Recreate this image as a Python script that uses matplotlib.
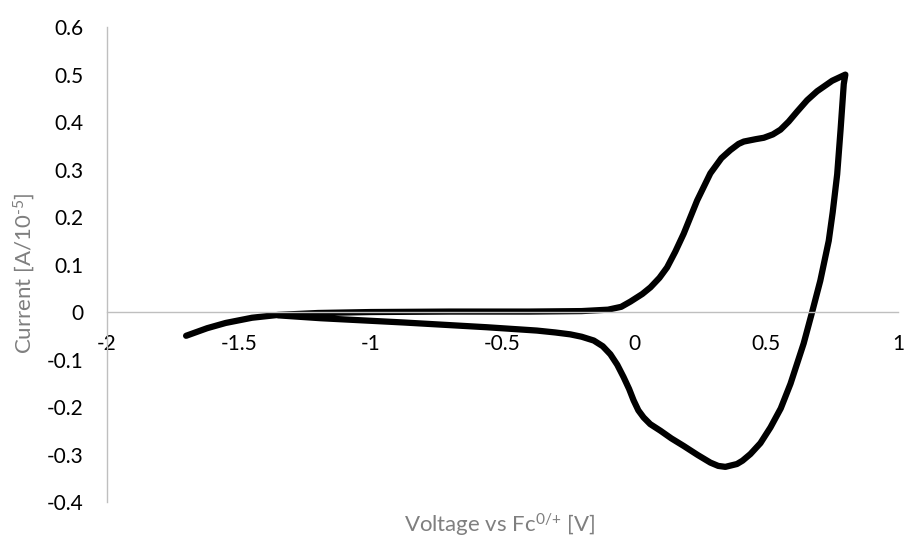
import matplotlib.pyplot as plt
from matplotlib.ticker import FuncFormatter, MultipleLocator

plt.rcParams['font.family'] = ['Lato', 'DejaVu Sans']
plt.rcParams['axes.unicode_minus'] = False
plt.rcParams['mathtext.fontset'] = 'custom'
plt.rcParams['mathtext.rm'] = 'Lato'
plt.rcParams['mathtext.it'] = 'Lato:italic'
plt.rcParams['mathtext.bf'] = 'Lato:bold'

# forward scan (-1.7 V -> 0.8 V)
volt_fwd = [-1.70, -1.62, -1.55, -1.45, -1.35, -1.20, -1.00, -0.70, -0.40, -0.20,
            -0.10, -0.05, -0.015, 0.03, 0.061, 0.095, 0.124, 0.155, 0.187, 0.238,
            0.288, 0.33, 0.364, 0.395, 0.415, 0.46, 0.491, 0.525, 0.554, 0.585,
            0.617, 0.655, 0.693, 0.75, 0.80]
curr_fwd = [-0.050, -0.034, -0.023, -0.012, -0.006, -0.002, 0.000, 0.001, 0.001, 0.002,
            0.005, 0.011, 0.022, 0.038, 0.052, 0.072, 0.094, 0.127, 0.165, 0.235,
            0.292, 0.324, 0.341, 0.354, 0.359, 0.364, 0.367, 0.374, 0.384, 0.401,
            0.422, 0.446, 0.465, 0.487, 0.500]

# reverse scan (0.8 V -> -1.35 V)
volt_rev = [0.80, 0.794, 0.782, 0.769, 0.752, 0.737, 0.705, 0.674, 0.642, 0.592,
            0.555, 0.516, 0.478, 0.44, 0.41, 0.389, 0.345, 0.318, 0.288, 0.24,
            0.187, 0.14, 0.099, 0.06, 0.035, 0.015, -0.003, -0.02, -0.041, -0.065,
            -0.091, -0.12, -0.154, -0.2, -0.243, -0.30, -0.37, -0.56, -0.875, -1.19,
            -1.35]
curr_rev = [0.500, 0.480, 0.385, 0.290, 0.210, 0.150, 0.066, 0.000, -0.066, -0.151,
            -0.203, -0.243, -0.276, -0.299, -0.313, -0.320, -0.326, -0.324, -0.317, -0.301,
            -0.282, -0.266, -0.250, -0.236, -0.222, -0.207, -0.186, -0.162, -0.137, -0.111,
            -0.089, -0.072, -0.060, -0.052, -0.047, -0.043, -0.039, -0.032, -0.022, -0.013,
            -0.007]

volts = volt_fwd + volt_rev[1:]
currents = curr_fwd + curr_rev[1:]

fig = plt.figure(figsize=(9.09, 5.42), dpi=100)
ax = fig.add_axes([0.1177, 0.0738, 0.8703, 0.8762])

ax.plot(volts, currents, color='black', linewidth=4.5, solid_joinstyle='round',
        solid_capstyle='round')

ax.set_xlim(-2, 1)
ax.set_ylim(-0.4, 0.6)
ax.xaxis.set_major_locator(MultipleLocator(0.5))
ax.yaxis.set_major_locator(MultipleLocator(0.1))
fmt = FuncFormatter(lambda v, p: f'{round(v, 2):g}')
ax.xaxis.set_major_formatter(fmt)
ax.yaxis.set_major_formatter(fmt)

# Excel-like axes: x axis crosses at y = 0
ax.spines['top'].set_visible(False)
ax.spines['right'].set_visible(False)
ax.spines['bottom'].set_position(('data', 0))
for s in ['left', 'bottom']:
    ax.spines[s].set_color('#bfbfbf')
    ax.spines[s].set_linewidth(1.0)
ax.tick_params(axis='both', length=0, labelsize=15, colors='black')
ax.tick_params(axis='x', pad=16)
ax.tick_params(axis='y', pad=17)

fig.text(0.026, 0.496, r'Current [A/10$^{\text{-5}}$]', rotation=90,
         ha='center', va='center', fontsize=16, color='#7f7f7f')
fig.text(0.550, 1 - 525 / 542, r'Voltage vs Fc$^{\text{0/+}}$ [V]',
         ha='center', va='center', fontsize=16, color='#7f7f7f')

fig.savefig('out.png', dpi=100)
